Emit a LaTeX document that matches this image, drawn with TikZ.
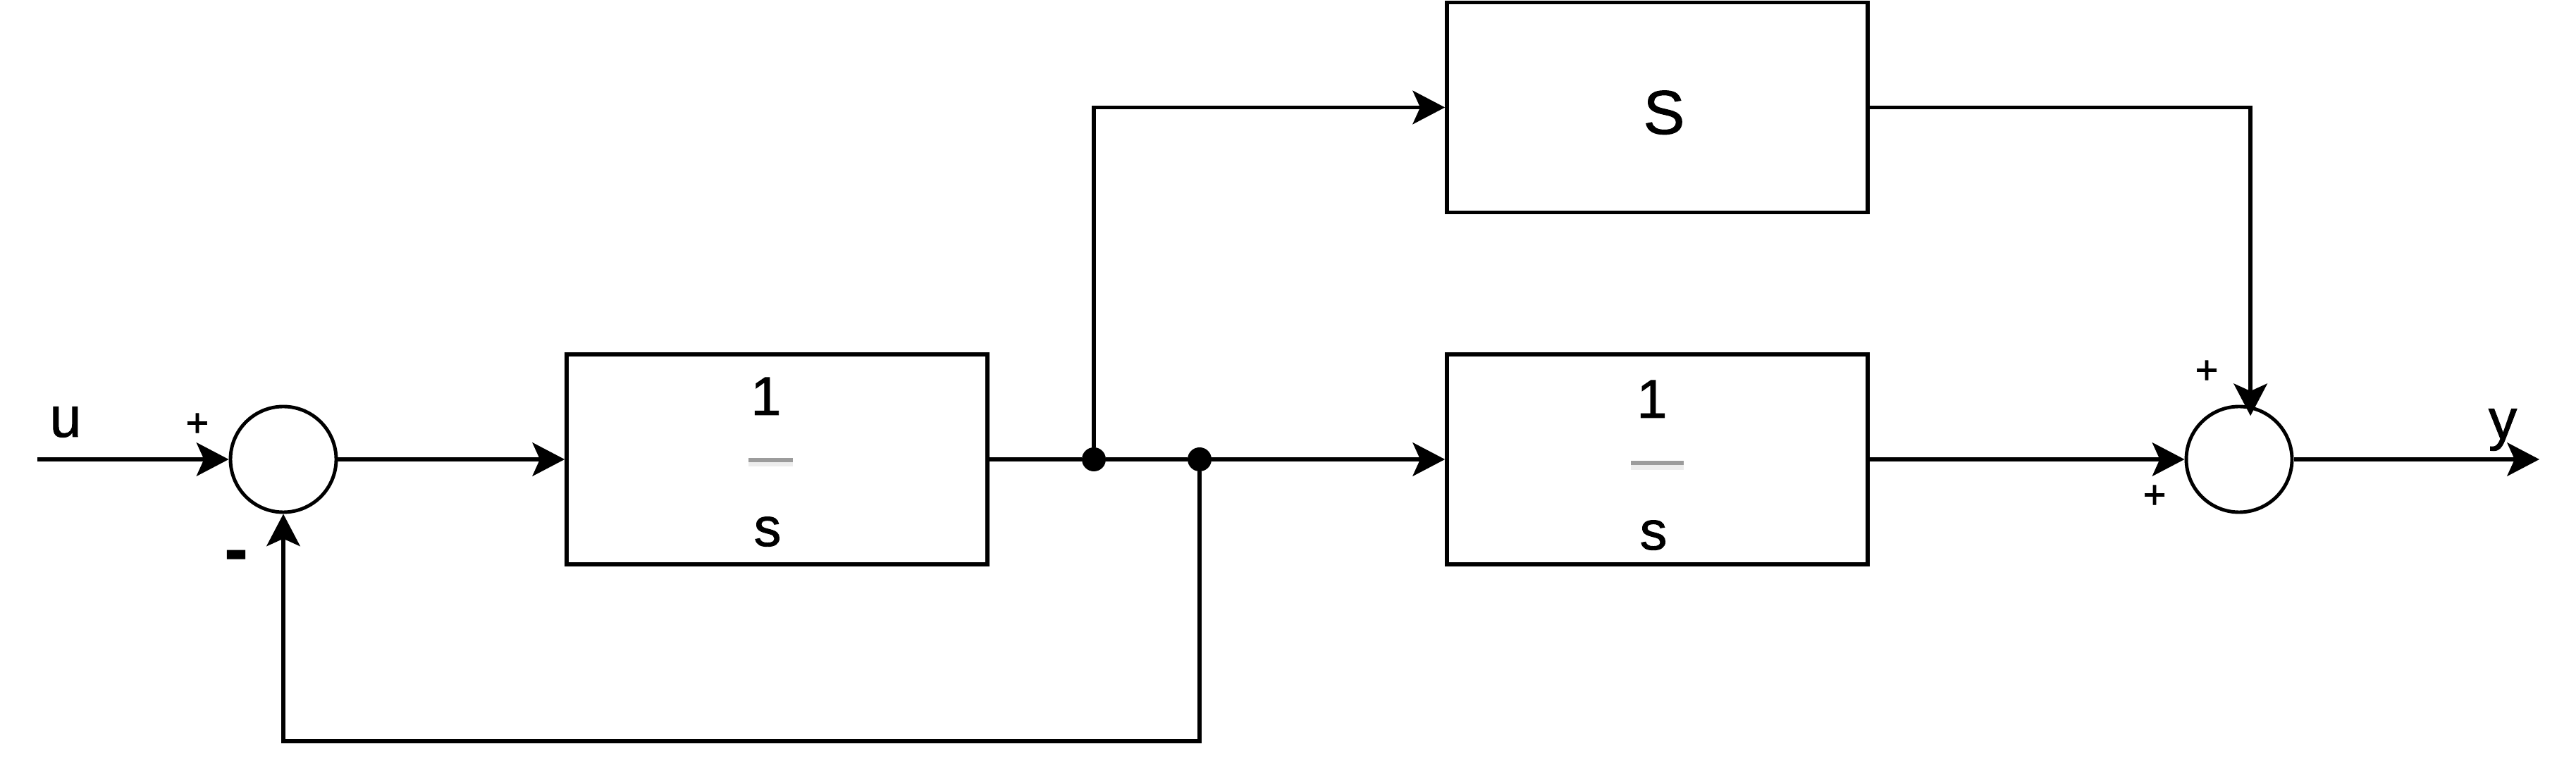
\documentclass[tikz,border=0pt]{standalone}
\usepackage{fontspec}
\setmainfont{Liberation Sans}[FakeBold=1.2]
\usetikzlibrary{arrows.meta}
\definecolor{bardark}{HTML}{9C9C9C}
\definecolor{barlight}{HTML}{EDEDED}
\begin{document}
\begin{tikzpicture}[>={Stealth[length=13pt,width=13.5pt,inset=3pt]}, line width=1.6pt,
    block/.style={draw, minimum width=5.97cm, minimum height=2.98cm, inner sep=0pt},
    sumnode/.style={draw, circle, minimum size=1.5cm, inner sep=0pt, line width=1.4pt},
    dot/.style={circle, fill, minimum size=0.34cm, inner sep=0pt, outer sep=0pt},
    txt/.style={font=\fontsize{22}{26}\selectfont, anchor=base, inner sep=0pt},
    sgn/.style={font=\fontsize{16}{19}\selectfont, inner sep=0pt}]
    \useasboundingbox (0,0) rectangle (36.55,11);
    \node [sumnode] (sum1) at (4.02,4.48) {};
    \node [block] (b1) at (11.025,4.48) {};
    \node [block] (b2) at (23.515,4.48) {};
    \node [block] (bs) at (23.515,9.475) {};
    \node [sumnode] (sum2) at (31.77,4.48) {};
    \node [dot] (d1) at (15.52,4.48) {};
    \node [dot] (d2) at (17.02,4.48) {};
    \coordinate (in) at (0.53,4.48);
    \coordinate (out) at (36.03,4.48);
    \coordinate (fb) at (17.02,0.48);
    % block labels
    \node [txt] (n1) at (10.87,5.11) {1};
    \fill [bardark] (10.62,4.50) rectangle (11.25,4.44);
    \fill [barlight] (10.62,4.44) rectangle (11.25,4.38);
    \node [txt] (s1) at (10.89,3.25) {s};
    \node [txt] (n2) at (23.44,5.07) {1};
    \fill [bardark] (23.14,4.46) rectangle (23.89,4.395);
    \fill [barlight] (23.14,4.395) rectangle (23.89,4.33);
    \node [txt] (s2) at (23.46,3.20) {s};
    \node [txt, font=\fontsize{25}{30}\selectfont] (gs) at (23.61,9.10) {S};
    % signals and signs
    \node [txt, font=\fontsize{23}{28}\selectfont] (lu) at (0.93,4.80) {u};
    \node [txt, font=\fontsize{23}{28}\selectfont] (ly) at (35.51,4.77) {y};
    \node [sgn] (p1) at (2.80,4.97) {+};
    \node [sgn, font=\fontsize{28}{32}\selectfont\bfseries] (m1) at (3.35,3.03) {-};
    \node [sgn] (p2) at (31.31,5.72) {+};
    \node [sgn] (p3) at (30.57,3.95) {+};
    \draw [->] (in) -- (sum1);
    \draw [->] (sum1) -- (b1);
    \draw (b1) -- (d1);
    \draw (d1) -- (d2);
    \draw [->] (d2) -- (b2);
    \draw [->] (d1) |- (bs);
    \draw [->] (b2) -- (sum2);
    \draw [->, shorten >=-0.14cm] (bs) -| (sum2.78);
    \draw [->] (sum2) -- (out);
    \draw [->] (d2) -- (fb) -| (sum1);
\end{tikzpicture}
\end{document}
